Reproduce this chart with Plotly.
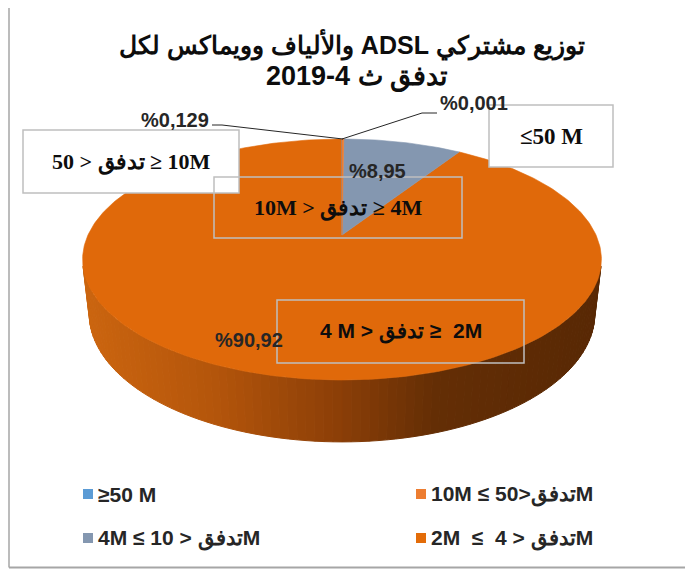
import numpy as np
import plotly.graph_objects as go

# ---------------- data ----------------
categories = ["≥50 M", "10M ≤ 50>تدفقM", "4M ≤ 10 > تدفقM", "2M  ≤  4 > تدفقM"]
values = [0.001, 0.129, 8.95, 90.92]
pct_labels = ["%0,001", "%0,129", "%8,95", "%90,92"]
slice_colors = ["#5B9BD5", "#ED7D31", "#8497B0", "#E0690A"]
legend_colors = ["#5B9BD5", "#ED7D31", "#8497B0", "#E36C09"]
box_labels = ["≤50 M", "50 > تدفق\u200e ≥ 10M", "10M > تدفق\u200e ≥ 4M", "4 M > تدفق\u200e ≥  2M"]
title_lines = ["توزيع مشتركي ADSL والألياف وويماكس لكل", "تدفق ث 4-2019"]

# ---------------- geometry (pixel space) ----------------
W, H = 693, 570
OFF = 8                        # page offset of the figure inside the window
CX, CY = 342.0, 235.0          # projected pie centre
K = 1113.0                     # projection scale
DIST = 4.382                   # camera distance (pie radius = 1)
EL = np.radians(27.05)         # camera elevation
THICK = 0.241                  # pie thickness
cE, sE = np.cos(EL), np.sin(EL)


def project(phi, z=0.0, r=1.0):
    phi = np.asarray(phi, dtype=float)
    x = r * np.sin(phi)
    y = r * np.cos(phi)
    depth = DIST + y * cE - z * sE
    up = y * sE + z * cE
    return CX + K * x / depth, CY - K * up / depth


def mix(c1, c2, t):
    a = [int(c1[i:i + 2], 16) for i in (1, 3, 5)]
    b = [int(c2[i:i + 2], 16) for i in (1, 3, 5)]
    return "rgb(%d,%d,%d)" % tuple(round(a[i] + (b[i] - a[i]) * t) for i in range(3))


def side_color(u):
    stops = [(0.0, "#CB650F"), (0.25, "#B4550B"), (0.5, "#8A3E07"), (0.68, "#642E05"), (1.0, "#582804")]
    for (u0, c0), (u1, c1) in zip(stops[:-1], stops[1:]):
        if u <= u1:
            return mix(c0, c1, (u - u0) / (u1 - u0))
    return stops[-1][1]


fig = go.Figure()

# ----- side wall (front-facing part only), gradient strips -----
phi_lo = np.arccos(-1.0 / (DIST * cE))
phi_hi = 2 * np.pi - phi_lo
xr, _ = project(phi_lo)
xl, _ = project(phi_hi)
NSTRIP = 90
edges = np.linspace(phi_lo, phi_hi, NSTRIP + 1)
for i in range(NSTRIP):
    a0, a1 = edges[i], edges[i + 1]
    ph = np.linspace(a0, a1, 3)
    tx, ty = project(ph, 0.0)
    bx, by = project(ph[::-1], -THICK)
    xs = np.concatenate([tx, bx, tx[:1]])
    ys = np.concatenate([ty, by, ty[:1]])
    xm, _ = project((a0 + a1) / 2)
    col = side_color((xm - xl) / (xr - xl))
    fig.add_trace(go.Scatter(x=xs, y=ys, mode="lines", fill="toself", fillcolor=col,
                             line=dict(color=col, width=1), hoverinfo="skip", showlegend=False))

# ----- top surface slices -----
total = sum(values)
cum = np.concatenate([[0.0], np.cumsum(values)]) / total * 2 * np.pi
order = [3, 2, 0, 1]
for i in order:
    a0, a1 = cum[i], cum[i + 1]
    n = max(3, int(np.degrees(a1 - a0)) + 3)
    ph = np.linspace(a0, a1, n)
    ax, ay = project(ph)
    xs = np.concatenate([[CX], ax, [CX]])
    ys = np.concatenate([[CY], ay, [CY]])
    fig.add_trace(go.Scatter(x=xs, y=ys, mode="lines", fill="toself", fillcolor=slice_colors[i],
                             line=dict(color=slice_colors[i], width=0.6), hoverinfo="skip",
                             name=categories[i], showlegend=False))
mids = [(cum[i] + cum[i + 1]) / 2 for i in range(len(values))]

# ----- leader lines for the two tiny slices -----
leader_elbows = {0: [(422, 113), (437, 113)], 1: [(222, 125), (212, 125)]}
for i, pts in leader_elbows.items():
    px, py = project(mids[i])
    xs = [float(px)] + [p[0] for p in pts]
    ys = [float(py)] + [p[1] for p in pts]
    fig.add_trace(go.Scatter(x=xs, y=ys, mode="lines", line=dict(color="#262626", width=1),
                             hoverinfo="skip", showlegend=False))

shapes = []
annotations = []

# ----- chart border -----
shapes.append(dict(type="line", x0=9, x1=9, y0=1.5, y1=567.5, line=dict(color="#A6A6A6", width=1.5)))
shapes.append(dict(type="line", x0=9, x1=705, y0=1.5, y1=1.5, line=dict(color="#D4D4D4", width=2)))
shapes.append(dict(type="line", x0=9, x1=705, y0=567.5, y1=567.5, line=dict(color="#A6A6A6", width=2)))

# ----- label boxes -----
box_pos = [  # (x0, y0, x1, y1, filled)
    (489, 105, 613, 167, True),
    (23, 130, 239, 193, True),
    (214, 177, 462, 238, False),
    (277, 300, 524, 363, False),
]
for (x0, y0, x1, y1, filled) in box_pos:
    shapes.append(dict(type="rect", x0=x0, y0=y0, x1=x1, y1=y1, layer="above",
                       line=dict(color="#BFBFBF", width=1.5),
                       fillcolor="white" if filled else "rgba(0,0,0,0)"))

serif = "Liberation Serif, Times New Roman, serif"
sans = "Liberation Sans, Arial, sans-serif"
box_fonts = [serif, serif, serif, sans]
box_sizes = [23, 22, 22, 21]
for k, (x0, y0, x1, y1, _) in enumerate(box_pos):
    annotations.append(dict(x=(x0 + x1) / 2, y=(y0 + y1) / 2, text=box_labels[k], showarrow=False,
                            xanchor="center", yanchor="middle",
                            font=dict(family=box_fonts[k], size=box_sizes[k], color="#0D0D0D", weight="bold")))

# ----- percentage labels -----
pct_pos = {0: (474, 103), 1: (175, 120), 2: (377, 171), 3: (249, 340)}
for i, (x, y) in pct_pos.items():
    annotations.append(dict(x=x, y=y, text=pct_labels[i], showarrow=False, xanchor="center", yanchor="middle",
                            font=dict(family=sans, size=20, color="#262626", weight="bold")))

# ----- title -----
annotations.append(dict(x=352, y=44, text="\u202b" + title_lines[0] + "\u202c", showarrow=False,
                        xanchor="center", yanchor="middle",
                        font=dict(family=sans, size=25, color="#0D0D0D", weight="bold")))
annotations.append(dict(x=357, y=77, text="\u202b" + title_lines[1] + "\u202c", showarrow=False,
                        xanchor="center", yanchor="middle",
                        font=dict(family=sans, size=27, color="#0D0D0D", weight="bold")))

# ----- legend (2 columns) -----
leg_pos = [(83, 494), (416, 494), (83, 538), (416, 538)]
for i, (lx, ly) in enumerate(leg_pos):
    shapes.append(dict(type="rect", x0=lx, x1=lx + 10, y0=ly - 5, y1=ly + 5, layer="above",
                       line=dict(width=0), fillcolor=legend_colors[i]))
    annotations.append(dict(x=lx + 13, y=ly, text=categories[i], showarrow=False,
                            xanchor="left", yanchor="middle",
                            font=dict(family=sans, size=21, color="#262626", weight="bold")))

fig.update_layout(
    width=W, height=H, autosize=False,
    margin=dict(l=0, r=0, t=0, b=0),
    paper_bgcolor="white", plot_bgcolor="white",
    xaxis=dict(range=[OFF, W + OFF], visible=False, fixedrange=True),
    yaxis=dict(range=[H + OFF, OFF], visible=False, fixedrange=True),
    shapes=shapes, annotations=annotations, showlegend=False,
)

fig.write_html("out.html")
